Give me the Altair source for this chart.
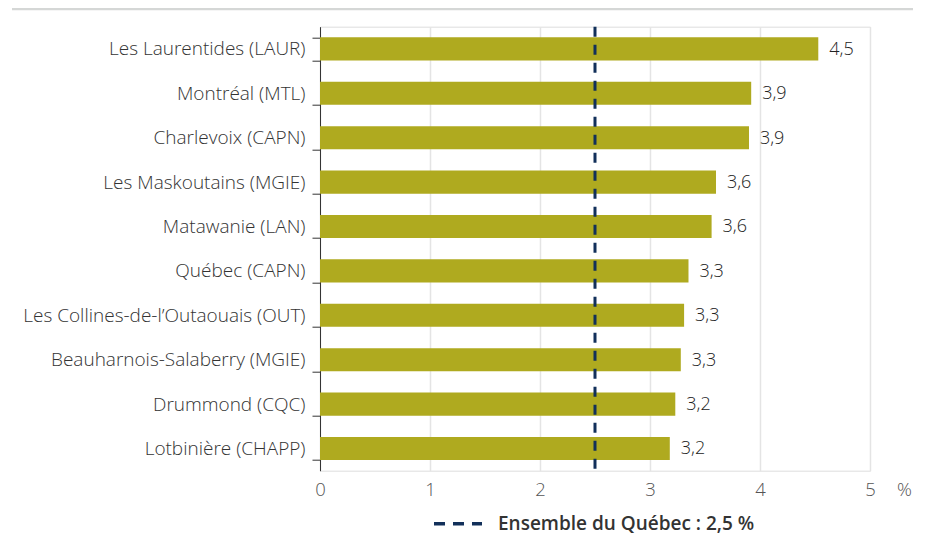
import altair as alt
import pandas as pd

categories = [
    "Les Laurentides (LAUR)",
    "Montréal (MTL)",
    "Charlevoix (CAPN)",
    "Les Maskoutains (MGIE)",
    "Matawanie (LAN)",
    "Québec (CAPN)",
    "Les Collines-de-l’Outaouais (OUT)",
    "Beauharnois-Salaberry (MGIE)",
    "Drummond (CQC)",
    "Lotbinière (CHAPP)",
]
values = [4.53, 3.92, 3.90, 3.60, 3.56, 3.35, 3.31, 3.28, 3.23, 3.18]
value_labels = ["4,5", "3,9", "3,9", "3,6", "3,6", "3,3", "3,3", "3,3", "3,2", "3,2"]
x_ticks = [0, 1, 2, 3, 4, 5]
reference_value = [2.5]
reference_label = ["Ensemble du Québec : 2,5 %"]

FONT = "Open Sans"
BAR = "#afaa1f"
NAVY = "#12305a"

df = pd.DataFrame({"cat": categories, "val": values, "lbl": value_labels})
ref = pd.DataFrame({"x": reference_value, "name": reference_label})

y_enc = alt.Y(
    "cat:N",
    sort=None,
    title=None,
    scale=alt.Scale(paddingInner=0.48, paddingOuter=0.24),
    axis=alt.Axis(
        labelFont=FONT, labelFontSize=19, labelFontWeight=300, labelColor="#333333",
        labelPadding=7, tickSize=8, tickColor="#333333", tickWidth=1,
        tickBand="extent", domainColor="#333333", domainWidth=1,
        grid=False, labelLimit=400,
    ),
)
x_scale = alt.Scale(domain=[0, 5], nice=False)
x_axis = alt.Axis(
    values=x_ticks, format="d", grid=True, gridColor="#e4e4e4", gridWidth=1.5,
    domain=False, ticks=False, tickSize=0, labelFlush=False,
    labelFont=FONT, labelFontSize=18.5, labelFontWeight=300, labelColor="#555555",
    labelBaseline="alphabetic", labelPadding=25,
    title="%", titleFont=FONT, titleFontSize=18.5, titleFontWeight=300,
    titleColor="#555555", titleX=584, titleY=25, titleAlign="center",
    titleBaseline="alphabetic", titleAngle=0,
)

base = alt.Chart(df)

bars = base.mark_bar(color=BAR).encode(
    x=alt.X("val:Q", scale=x_scale, axis=x_axis),
    y=y_enc,
)

texts = base.mark_text(
    align="left", baseline="middle", dx=11, dy=1,
    font=FONT, fontSize=18, fontWeight=300, color="#222222",
).encode(
    x=alt.X("val:Q", scale=x_scale),
    y=alt.Y("cat:N", sort=None),
    text="lbl:N",
)

rule = alt.Chart(ref).mark_rule(strokeWidth=3, strokeDash=[10, 8]).encode(
    x=alt.X("x:Q", scale=x_scale),
    color=alt.Color(
        "name:N",
        scale=alt.Scale(domain=reference_label, range=[NAVY]),
        legend=alt.Legend(
            title=None, orient="none", legendX=112, legendY=471,
            direction="horizontal", symbolType="stroke", symbolSize=2304,
            symbolStrokeWidth=3.5, symbolDash=[11, 8],
            labelFont=FONT, labelFontSize=19, labelFontWeight=600,
            labelColor="#333333", labelOffset=14, labelLimit=500,
        ),
    ),
)

band = alt.Chart(ref).mark_rect(color="#d5d7d6").encode(
    x=alt.value(-308), x2=alt.value(593),
    y=alt.value(-18.7), y2=alt.value(-16.5),
)

chart = (
    alt.layer(band, bars, rule, texts)
    .properties(
        width=550, height=444,
        autosize=alt.AutoSizeParams(type="none"),
        padding={"left": 312, "top": 18.7, "right": 47, "bottom": 64},
    )
    .configure_view(stroke=None)
    .configure(background="white")
)

chart.save("out.html", embed_options={"renderer": "svg", "actions": False})
